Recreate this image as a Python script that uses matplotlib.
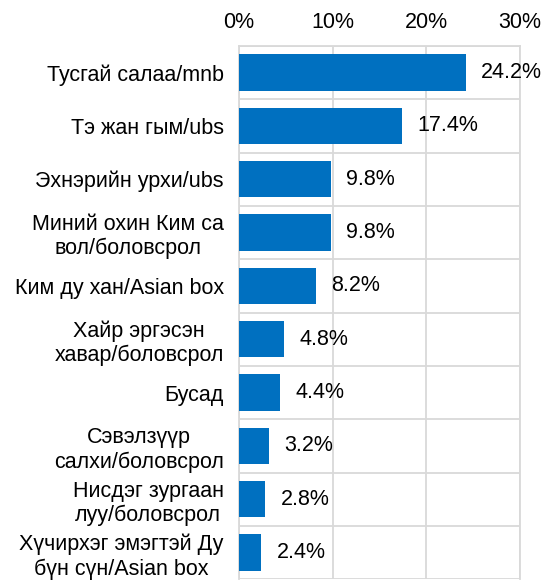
import matplotlib
matplotlib.use("Agg")
import matplotlib.pyplot as plt
import numpy as np

plt.rcParams['font.family'] = ['Liberation Sans', 'DejaVu Sans']

categories = [
    "Тусгай салаа/mnb",
    "Тэ жан гым/ubs",
    "Эхнэрийн урхи/ubs",
    "Миний охин Ким са\nвол/боловсрол",
    "Ким ду хан/Asian box",
    "Хайр эргэсэн\nхавар/боловсрол",
    "Бусад",
    "Сэвэлзүүр\nсалхи/боловсрол",
    "Нисдэг зургаан\nлуу/боловсрол",
    "Хүчирхэг эмэгтэй Ду\nбүн сүн/Asian box",
]
values = [24.2, 17.4, 9.8, 9.8, 8.2, 4.8, 4.4, 3.2, 2.8, 2.4]
x_ticks = [0, 10, 20, 30]
x_ticklabels = ["0%", "10%", "20%", "30%"]

bar_color = "#0070C0"
grid_color = "#D9D9D9"
fs = 15.5

fig = plt.figure(figsize=(5.48, 5.81), dpi=100)
ax = fig.add_axes([0.436, 0.003, 0.513, 0.918])

y = np.arange(len(categories))
ax.barh(y, values, height=0.68, color=bar_color, zorder=3)

for yi, v in zip(y, values):
    ax.annotate(f"{v:.1f}%", (v, yi), xytext=(11, 0), textcoords="offset points",
                ha="left", va="center", fontsize=fs, color="black", zorder=4)

ax.set_xlim(0, 30)
ax.set_ylim(len(categories) - 0.5, -0.5)
ax.xaxis.tick_top()
ax.set_xticks(x_ticks)
ax.set_xticklabels(x_ticklabels, fontsize=fs)
ax.set_yticks(y)
ax.set_yticklabels(categories, fontsize=fs, multialignment="center")
ax.tick_params(axis="both", length=0)
ax.tick_params(axis="x", pad=9)
ax.tick_params(axis="y", pad=11)

# category separators and vertical gridlines
ax.set_yticks(np.arange(len(categories) + 1) - 0.5, minor=True)
ax.tick_params(axis="y", which="minor", length=0)
ax.grid(axis="y", which="minor", color=grid_color, linewidth=1.3, zorder=0)
ax.grid(axis="x", which="major", color=grid_color, linewidth=1.3, zorder=0)
ax.grid(axis="y", which="major", visible=False)

for side in ["top", "bottom", "left", "right"]:
    ax.spines[side].set_color(grid_color)
    ax.spines[side].set_linewidth(1.3)
ax.spines["bottom"].set_visible(False)

fig.savefig("out.png", dpi=100)
